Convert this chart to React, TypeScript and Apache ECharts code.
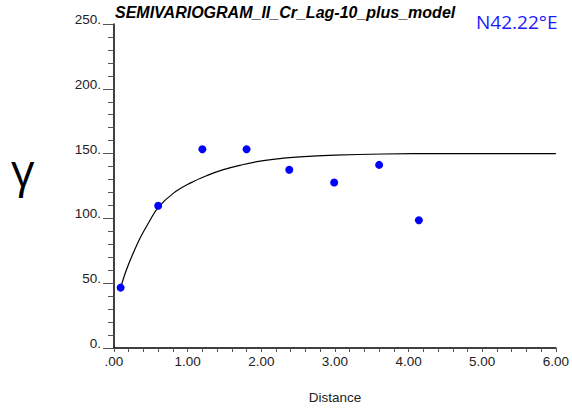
import React, { useEffect, useRef } from "react";
import * as echarts from "echarts";

const chartTitle = "SEMIVARIOGRAM_II_Cr_Lag-10_plus_model";
const directionLabel = "N42.22°E";
const yAxisSymbol = "γ";
const xAxisName = "Distance";

const lagDistances = [0.09, 0.6, 1.2, 1.8, 2.38, 2.99, 3.6, 4.14];
const semivariance = [46.6, 109.7, 153.3, 153.3, 137.5, 127.7, 141.3, 98.6];

const modelDistances = [0.09, 0.157, 0.248, 0.36, 0.474, 0.6, 0.808, 1.034, 1.26, 1.485, 1.756, 1.94, 2.16, 2.52, 3.0, 3.65, 4.5, 6.0];
const modelValues = [46.6, 58.5, 71.5, 85.5, 97, 108.5, 119.5, 127.2, 133, 137.6, 141.6, 143.8, 145.6, 147.4, 148.8, 149.7, 150, 150];

const xTickValues = [0, 1, 2, 3, 4, 5, 6];
const xTickLabels = [".00", "1.00", "2.00", "3.00", "4.00", "5.00", "6.00"];
const yTickValues = [0, 50, 100, 150, 200, 250];
const yTickLabels = ["0.", "50.", "100.", "150.", "200.", "250."];

export default function App() {
  const ref = useRef<HTMLDivElement>(null);
  useEffect(() => {
    if (!ref.current) return;
    const chart = echarts.init(ref.current, null, { renderer: "svg" });
    const labelFont = "Liberation Sans, Arial, sans-serif";
    chart.setOption({
      animation: false,
      backgroundColor: "#ffffff",
      grid: { left: 114, right: 15, top: 24, bottom: 56, containLabel: false },
      xAxis: {
        type: "value",
        min: 0,
        max: 6,
        interval: 1,
        name: xAxisName,
        nameLocation: "middle",
        nameGap: 42,
        nameTextStyle: { fontFamily: labelFont, fontSize: 13.5, color: "#222" },
        axisLine: { show: true, onZero: false, lineStyle: { color: "#000", width: 1.5 } },
        axisTick: { show: true, length: 4, lineStyle: { color: "#555" } },
        minorTick: { show: true, splitNumber: 5, length: 4, lineStyle: { color: "#555" } },
        splitLine: { show: false },
        axisLabel: {
          fontFamily: labelFont,
          fontSize: 13.5,
          color: "#222",
          margin: 6,
          formatter: (v: number) => {
            const i = xTickValues.indexOf(v);
            return i >= 0 ? xTickLabels[i] : "";
          },
        },
      },
      yAxis: {
        type: "value",
        min: 0,
        max: 250,
        interval: 50,
        axisLine: { show: true, onZero: false, lineStyle: { color: "#000", width: 1.5 } },
        axisTick: { show: true, length: 11, lineStyle: { color: "#555" } },
        minorTick: { show: true, splitNumber: 5, length: 6, lineStyle: { color: "#555" } },
        splitLine: { show: false },
        axisLabel: {
          fontFamily: labelFont,
          fontSize: 13.5,
          color: "#222",
          margin: 13,
          verticalAlign: "bottom",
          lineHeight: 9,
          formatter: (v: number) => {
            const i = yTickValues.indexOf(v);
            return i >= 0 ? yTickLabels[i] : "";
          },
        },
      },
      graphic: [
        {
          type: "text",
          left: 115,
          top: 4,
          style: {
            text: chartTitle,
            font: "italic bold 16px Liberation Sans, Arial, sans-serif",
            fill: "#000",
          },
        },
        {
          type: "text",
          left: 476,
          top: 12,
          style: {
            text: directionLabel,
            font: "19px Open Sans, sans-serif",
            fill: "#1a1aff",
          },
        },
        {
          type: "text",
          left: 11,
          top: 146,
          style: {
            text: yAxisSymbol,
            font: "46px Open Sans, sans-serif",
            fill: "#000",
          },
        },
      ],
      series: [
        {
          type: "line",
          data: modelDistances.map((d, i) => [d, modelValues[i]]),
          smooth: 0.4,
          showSymbol: false,
          symbol: "none",
          lineStyle: { color: "#000", width: 1.2 },
          z: 2,
        },
        {
          type: "scatter",
          data: lagDistances.map((d, i) => [d, semivariance[i]]),
          symbol: "circle",
          symbolSize: 8,
          itemStyle: { color: "#0000ff", opacity: 1 },
          z: 3,
        },
      ],
    });
    return () => chart.dispose();
  }, []);
  return (
    <div
      ref={ref}
      style={{ position: "fixed", left: 0, top: 0, width: 572, height: 409 }}
    />
  );
}
